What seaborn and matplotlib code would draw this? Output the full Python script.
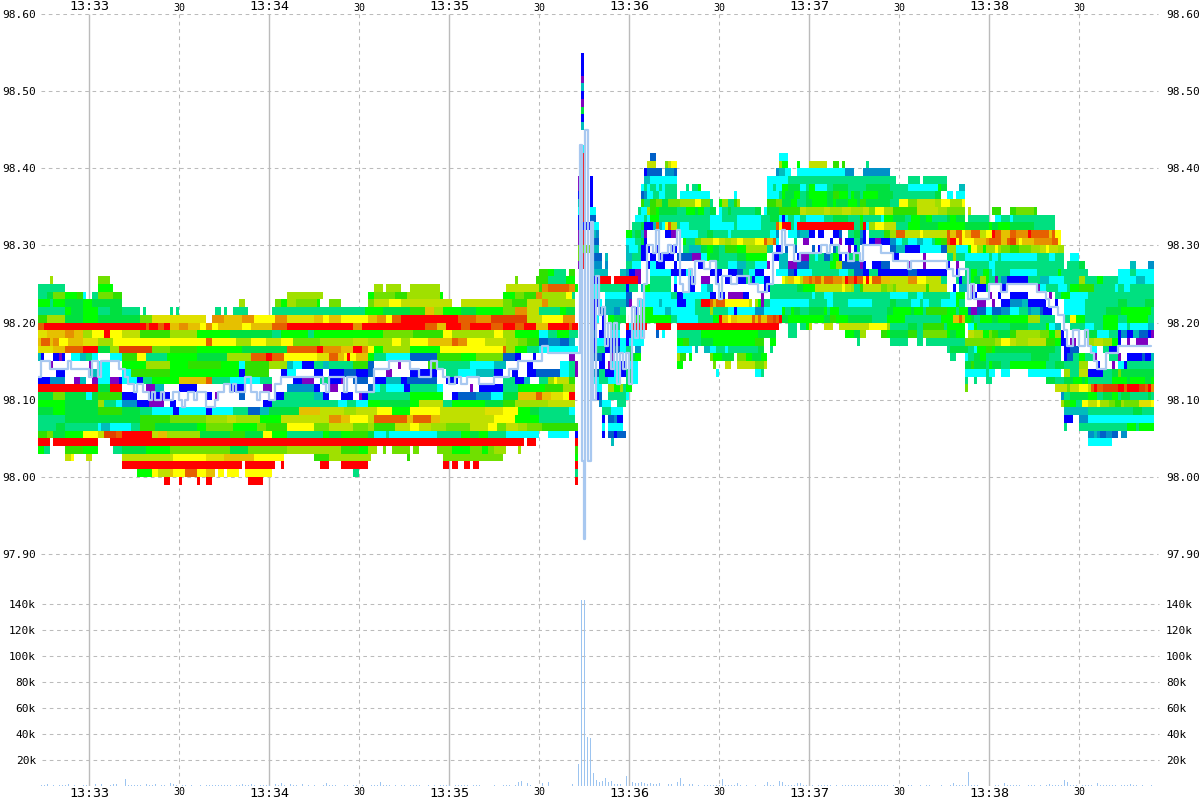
import numpy as np
import pandas as pd
import seaborn as sns
import matplotlib.pyplot as plt
from matplotlib.colors import ListedColormap

# cell colours, lowest to highest activity
level_chars = "wpbdetcshgGlLmYyaoORr"
level_colors = ["#ffffff", "#8000c0", "#0000ff", "#0060c8", "#0090c8", "#00bcbc", "#00ffff",
                "#00e080", "#00e040", "#00ff00", "#30e000", "#70e000", "#a0e000", "#c0e000",
                "#e0e000", "#ffff00", "#e6c000", "#e69000", "#e66000", "#e04000", "#ff0000"]

# price -> runs "start second + level", one second per column, "." = no cell
runs_before = {
    98.27: "167G 170g 172s 176. 177G 179.",
    98.26: "4L 5. 20l 24. 159l 160. 166G 170s 176g 179.",
    98.25: "0s 9. 20g 25. 112L 115. 116L 121. 124L 134. 156m 167G 168o 170O 177o 179g 180.",
    98.24: "0s 3h 5l 9g 13G 15c 16. 18s 20l 25G 28. 83L 95. 110g 112l 119G 123L 134g 135. 155g 159l 162G 166o 168L 176y 178s 179.",
    98.23: "0g 4s 5g 7g 9h 15g 18h 28. 67L 69. 79l 81g 83L 86l 93g 94. 97l 101. 110l 112m 117y 121m 138. 141m 155l 158G 163m 168o 170L 179.",
    98.22: "0s 9g 11h 15g 20s 24h 28s 34. 35s 36. 44s 45. 46s 47. 59s 61. 62s 63. 65s 70. 78s 109g 115h 124G 129a 132L 135g 141h 146g 155l 159o 163m 167s 174g 176h 179.",
    98.21: "0G 3L 9h 15g 20h 34l 38Y 56. 58o 62a 68o 72y 79o 83Y 92a 95y 97a 101y 110a 113o 116y 118O 121r 140O 146o 151R 163m 168y 175o 179.",
    98.20: "0O 2r 36O 37r 40O 42r 44a 47o 50a 54y 56o 58y 60a 68y 71a 78O 83r 105o 108r 129O 133a 136r 141O 144r 151O 155r 159O 162r 166a 170r 177O 178r 180.",
    98.19: "0Y 3a 9o 12a 15L 18y 22r 24y 28m 34G 44L 53g 64h 78s 81g 90s 92g 115l 125G 135y 138L 152y 155L 159g 167c 170s 173g 177s 180.",
    98.18: "0a 1O 4a 5o 7y 10a 15Y 20L 25y 56O 58y 66L 71y 76m 81y 85l 94L 105m 110L 118y 121L 124y 130a 138O 140o 143y 149m 156L 160l 163G 167d 170e 174d 177t 179.",
    98.17: "0Y 5a 9O 15r 20h 24L 27R 38l 44G 53g 68h 83O 93r 95o 101a 105r 108o 110y 112g 115L 124g 134y 155O 156L 159g 163s 167c 180.",
    98.16: "0t 1b 2w 5b 7p 8b 9w 11c 14t 16s 18c 20w 24c 28G 33y 36s 43g 53h 63L 71O 76r 78O 82y 93Y 97O 100a 102y 103r 104y 106a 110g 112s 116c 124d 133G 141g 146l 155d 159b 161w 165b 166w 177p 179.",
    98.15: "0w 4p 5w 17p 18w 20c 24w 28g 36L 44g 50G 61g 67c 69G 77L 83t 85c 88b 92s 95t 97s 105G 110d 112w 120p 121w 130G 133s 144c 152t 156w 163b 165w 174c 177s 179p 180.",
    98.14: "0w 6b 9w 17t 20c 24w 28c 31G 44g 67b 69G 77w 81b 83c 86w 92b 95w 97b 102d 106b 110d 112w 116p 118w 124b 133w 136s 140c 146t 152b 155w 158b 160w 163b 166d 174c 177s 179p 180.",
    98.13: "0b 4e 9w 12p 14t 16w 18p 20c 24p 27b 28c 33b 35s 38g 47a 56O 58s 64c 74s 78w 85b 88p 92w 94s 97b 101p 102w 105d 110w 112b 116t 121b 123d 133w 136b 140w 155s 159b 162t 164w 167s 170L 172y 173m 177G 179.",
    98.12: "0r 20h 24r 28w 36p 39t 42w 47b 53w 64b 69w 75p 78w 83e 92b 94w 97p 100w 110d 112c 114s 116c 122b 124s 133c 135w 144p 145w 147b 155s 160g 169G 175L 179.",
    98.11: "0h 5l 9h 16c 18h 20G 28b 33w 37b 44w 56b 58w 59p 60w 67d 69w 79b 82s 92t 95b 97w 101b 105w 107p 108b 110s 124g 135w 138b 140d 146e 151c 155h 160a 166O 168a 171Y 175y 177r 179.",
    98.10: "0g 9h 20L 22s 26c 28e 33b 37p 42w 44b 46w 75b 78s 97s 100c 103s 106c 110g 114h 124g 127m 135s 138g 149h 155G 159L 170m 179.",
    98.09: "0h 5g 9h 20G 28h 34s 38c 45b 47c 56b 58c 65s 70d 74t 77h 87a 94m 102L 106m 113y 118g 124y 134m 149Y 155y 160g 164h 167s 177c 179.",
    98.08: "0s 9h 34G 44l 56L 63m 66L 74g 81m 97o 101a 104y 110m 112O 123a 125O 131a 134m 152y 159g 167s 179.",
    98.07: "0s 6h 9s 20c 21t 24c 31s 34G 39h 53g 56l 65g 73l 76G 83y 92l 97m 105l 110L 112G 119m 124y 127m 131L 136l 144m 150y 153l 156m 160L 163l 168G 180.",
    98.06: "0G 3l 5h 9g 15y 20m 22R 26O 28r 38m 40a 43L 54h 64G 69h 75y 78g 83s 95g 97h 101g 104G 110h 112c 116s 117c 133s 141g 144h 147g 150s 156c 167. 170c 177. 179b 180.",
    98.05: "0r 4. 5r 20. 24r 162. 163r 166. 179r 180.",
    98.04: "0g 2s 4. 9G 15g 20. 25s 28h 36g 44l 64h 70l 83L 101G 107g 110L 113. 115l 116. 118l 124. 125l 127. 133l 138g 144l 148g 150l 152L 156. 160L 161. 179G 180.",
    98.03: "9m 11y 12. 16m 18. 28m 45y 56Y 62a 72y 82. 92G 97L 111. 123G 124. 135l 155. 179g 180.",
    98.02: "28r 68. 69r 79. 81r 82. 94r 97. 101r 110. 135r 137. 138r 140. 142r 144. 145r 147. 179r 180.",
    98.01: "33g 38y 40m 44a 45y 49O 53y 56a 59. 60y 62. 63y 67. 69y 78. 105s 107. 179s 180.",
    98.00: "42r 44. 47r 48. 53r 54. 56r 58. 70r 75. 179r 180.",
}

runs_middle = {
    98.55: "181b 182.", 98.54: "181b 182.", 98.53: "181b 182.", 98.52: "181p 182.",
    98.51: "181t 182.", 98.50: "181b 182.", 98.49: "181p 182.", 98.48: "181h 182.",
    98.47: "181b 182.", 98.46: "181t 182.", 98.43: "181c 182.",
    98.42: "181r 182. 204d 206. 247c 250.",
    98.41: "181r 182. 203m 206. 209l 210m 211y 213. 247L 248g 250. 253g 254. 257m 263. 265G 267. 268G 269.",
    98.40: "181r 182. 202b 203d 208. 209e 212d 213. 246e 247t 249c 251. 253c 269e 272.",
    98.39: "180p 181r 182. 184b 185. 202t 204c 213. 243c 245c 250s 274.",
    98.38: "180p 181r 182. 184b 185. 201c 202s 203c 204s 206c 207s 208c 209s 213. 216s 217. 218s 220g 221. 243c 245s 246c 248g 250h 254c 256s 257g 259c 263s 265h 270s 274.",
    98.37: "180b 181r 182. 184b 185. 201d 202e 203c 205s 207c 209s 213. 214c 224. 232c 233. 243c 247s 248g 249h 252g 254s 256h 257g 263h 265G 267g 270s 271g 272h 274.",
    98.36: "180t 181r 182. 184b 185. 201G 202s 204G 206l 208h 210l 214L 219y 221l 224s 225. 227g 228L 230s 232G 233L 234. 243G 246l 248h 251g 253s 256h 258g 263h 265g 266h 270g 273h 274.",
    98.35: "180c 181r 182. 184c 186. 200s 201c 203L 204G 206g 207h 213s 216g 219h 220g 222s 224h 226. 227c 228s 230h 231s 239h 241. 242c 243h 247G 254m 256L 262m 264L 268m 271L 274.",
    98.34: "180b 181r 182. 184d 186. 199c 202s 203c 204g 207s 224c 228s 233c 241s 244h 247c 248b 249c 250s 252c 254s 256c 262s 265h 270s 274.",
    98.33: "180b 184c 187. 198s 201h 202b 205t 206O 207t 208c 209y 210O 211m 213s 214c 217s 224c 232s 233c 241s 246O 247y 248r 251s 252c 253r 272s 274.",
    98.32: "180p 181r 182. 184t 186e 187. 196g 198s 199h 201t 202p 203w 209b 211p 213w 214c 220s 223h 225s 230c 231s 244c 246e 247w 250c 253e 254t 257b 259w 260b 262w 265b 267d 268w 270s 272h 274.",
    98.31: "180p 181r 182. 184b 185d 187. 196c 199s 201h 202b 203w 215g 216s 219l 221m 225y 227m 229L 231m 233y 235m 239y 242O 243a 245O 246c 247w 252s 253w 255p 257w 264b 265w 267p 268w 269b 272s 274.",
    98.30: "180l 184t 187. 196t 197c 200s 201b 204w 206b 207w 211b 213w 215s 217t 221h 223g 225h 227s 229G 233g 236L 243s 244t 245w 246b 248w 249d 250w 252d 253w 258d 259w 260b 261w 265d 266s 267w 270p 271w 272b 273s 274.",
    98.29: "180l 181r 182. 185d 188. 189t 190. 196t 198s 201b 203w 204b 206w 207b 212w 213d 218p 221c 223g 224h 227s 233h 236g 243w 245b 247t 250w 253b 254p 257s 259c 260s 262d 264s 265g 267b 268w 269b 270s 272h 274.",
    98.28: "180p 181r 182. 185e 188. 189e 190. 196s 198c 201w 203b 204c 206b 209w 212b 213w 220b 222w 226s 230c 233t 236s 239c 243p 244w 247t 250p 253d 257s 264g 266L 268d 274.",
    98.27: "185t 190. 194t 196e 197b 199p 201w 204c 211b 216c 218w 224b 228w 230b 233d 235s 237c 239b 242w 246c 250d 252b 253c 258s 267c 270s 272d 274.",
    98.26: "185b 187r 191. 192r 200p 201. 202w 204s 211w 212c 213w 217b 219w 221p 224w 226b 227w 229b 231w 233b 236s 238b 239c 242b 244w 248y 249m 250a 252y 254m 255o 257O 258o 259O 261a 262O 265o 268a 269r 270O 272r 273O 274.",
    98.25: "185c 187s 196b 197s 200w 201t 202g 204s 211w 212b 213w 217b 219w 221c 223t 225w 242b 244s 253h 255g 259m 268y 269m 271L 272s 274.",
    98.24: "185c 187. 189c 196d 198w 202c 211s 213b 215c 224b 226w 227b 229w 230p 235b 237w 241p 242w 244s 258c 259s 262c 265s 274.",
    98.23: "185b 187c 188. 189t 196d 197p 198w 200c 207t 208c 213b 216c 219s 221r 224O 225a 226O 229y 237m 238w 239L 240g 241p 242s 244c 257s 263c 265s 270c 274.",
    98.22: "185b 186w 187d 189t 192e 194s 196w 199b 200w 201g 205c 209t 211c 219s 224L 225s 230c 232b 233c 239e 242c 248g 249s 251g 252h 254s 257h 262g 263s 264g 267s 274.",
    98.21: "185b 186c 187. 188b 189. 190g 192h 196. 197w 199g 211s 213c 220s 225g 227r 228a 230y 231a 233Y 238O 239a 240O 241a 243O 245R 246O 247r 248h 250g 262h 264G 266g 270h 274.",
    98.20: "185b 186. 188b 189. 191s 194. 196r 197c 198r 203. 206r 211. 213r 247. 250s 253. 254s 256g 257m 258. 262m 265. 267m 274.",
    98.19: "185d 186. 187b 189. 191c 194. 196b 198c 202. 206d 207. 208c 209. 213s 221g 240h 246. 250s 253. 269g 272h 274.",
    98.18: "185b 186c 189b 194c 196b 197c 202. 213g 215G 217s 221h 225g 239G 242. 244g 246. 273s 274.",
    98.17: "185b 186s 189b 192d 194c 196s 198. 199e 201. 213c 218. 219t 220. 222t 224c 226s 229c 230s 240h 242. 244s 245.",
    98.16: "185d 188b 189w 191p 192w 197h 199g 201. 213L 214G 216. 217g 218. 224l 225g 228h 232. 233l 236g 238h 241g 243.",
    98.15: "187b 189w 190p 191c 194b 196w 197c 200. 213g 215. 225l 226. 229m 231. 233m 239l 242m 243.",
    98.14: "185e 186d 187s 189b 192c 194b 196s 198c 200. 226c 227. 239c 241s 242.",
    98.13: "185c 187s 190c 194. 196s 198c 200.",
    98.12: "186c 188. 190L 192g 194L 195s 196g 198.",
    98.11: "186b 187d 188. 190s 196c 197.",
    98.10: "187e 188c 191. 193s 196.",
    98.09: "188s 191c 195.",
    98.08: "188b 189. 190d 192e 193b 195.",
    98.07: "188c 189. 190c 195.",
    98.06: "188b 189. 190d 192b 193d 196.",
    98.05: "191t 192.",
}

runs_after = {
    98.41: "276s 277.",
    98.40: "275e 284.",
    98.39: "274s 286. 290s 294. 295s 303.",
    98.38: "274s 276h 284s 290c 300g 301h 303. 307t 309.",
    98.37: "274s 275g 280h 285s 299h 301. 303c 305. 306c 309.",
    98.36: "274G 276h 284s 287y 290l 293m 299L 301y 304L 308y 309.",
    98.35: "274L 275m 277l 279y 282L 285G 293m 300L 303l 309. 310m 311. 318G 321. 324G 326l 332G 333.",
    98.34: "274g 275s 281c 282g 285h 289s 291g 294h 296g 298s 303h 304g 306h 309. 310s 317. 319c 321s 324c 325s 339.",
    98.33: "274G 275r 276c 277L 279y 282m 286s 290g 294h 300g 309h 317g 318h 320g 324h 332s 339.",
    98.32: "274e 275b 276w 277s 282G 284L 286O 289m 294y 295m 303O 304a 306O 308y 309a 311O 314m 316y 318r 319O 321a 324O 326o 330r 331O 337a 338O 339y 341.",
    98.31: "274d 275b 276w 277b 279p 281b 284e 286c 288s 290c 293t 295c 298s 299g 301G 303O 304r 306y 307O 308y 311y 312a 316o 317O 321a 323O 324R 326a 327y 328a 332o 338O 340y 341.",
    98.30: "274w 284d 286t 289b 294c 301d 303L 306c 310g 311y 313L 315g 316L 319y 320L 321l 324G 327l 331L 334m 336y 337m 340L 342.",
    98.29: "274w 285b 287w 295p 296w 303s 305L 306s 309c 317s 318c 320s 321c 323s 323c 333s 337c 339s 342. 344c 347.",
    98.28: "274p 275b 276w 278b 281d 284w 290p 291w 295p 296w 303b 304w 306p 307w 309s 317c 319s 342. 343s 347h 349. 364t 366. 370e 372.",
    98.27: "274d 275b 277s 280b 290d 293b 303w 306b 307w 309s 311g 313s 315g 317s 318c 319s 324c 333s 340g 341s 350. 360c 364s 366c 372.",
    98.26: "274O 275y 276r 277y 278O 281a 284m 290o 293y 296m 301s 303w 306s 307b 308s 311g 312h 314L 316g 317s 319p 320s 321e 323b 330s 334t 337c 342s 347L 349s 353g 355s 360c 366t 369c 372.",
    98.25: "274G 275m 281l 283L 285l 286m 296G 297m 303w 305b 306w 307t 310w 311p 312w 313b 316s 317w 321b 323w 333p 334c 336s 340c 343s 344g 347G 352s 359c 360s 362c 364s 372.",
    98.24: "274s 284c 290s 293c 295s 304c 306g 309w 311b 313w 317p 318w 320b 321w 324b 330w 337p 338w 339s 341g 344c 350s 372.",
    98.23: "274c 278s 284h 286s 291c 294s 295c 297s 301c 306g 307s 309w 313p 316w 318p 319w 321b 324e 328t 330b 336w 339b 340w 342c 349s 360h 363s 369h 372.",
    98.22: "274s 283h 285g 291h 292g 295s 296G 303g 306s 307g 310d 311p 313d 316c 318d 321e 324c 327s 330e 331t 334d 335b 338w 342c 349s 356h 361g 371s 372.",
    98.21: "274h 278s 283g 289s 301g 305a 307O 308a 309g 311h 312s 314g 318h 320g 330L 334s 339w 342s 344y 346g 349s 355g 360s 363g 370s 372.",
    98.20: "274m 277y 283L 284s 290h 293s 295G 302s 303g 309. 310c 312g 313s 324h 330s 336g 337c 339t 341w 344s 349c 352s 355g 360c 363s 364c 370t 372.",
    98.19: "274L 276. 281G 283g 284h 290G 293s 295l 303g 304h 306g 309. 310m 312L 315g 317l 318G 320h 324G 326L 334l 337g 339L 341b 342w 349h 353c 357s 360b 361e 363b 365t 367d 370b 371p 372.",
    98.18: "284s 290. 293s 295. 296s 309l 319L 321y 324m 326L 330m 336G 339g 341b 343w 344p 346w 350L 352m 355L 358g 360b 361w 363p 364w 366p 370w 372.",
    98.17: "303s 304h 310s 312c 313g 316G 318g 319h 339s 341w 342b 344d 347w 351c 353w 355s 357b 360w 372.",
    98.16: "304s 306. 309c 310s 312h 314g 316s 331h 337s 341w 342b 343d 345s 347g 349s 352p 353w 357s 360p 361w 363b 368d 369b 371t 372.",
    98.15: "309h 311G 312h 316s 317g 318h 321s 324g 336s 339h 342s 347L 350w 353b 354w 358p 359w 360c 362b 363s 372.",
    98.14: "309c 316s 317c 319. 321c 324. 330c 341. 342L 344s 347m 350b 355s 358h 360l 361h 372.",
    98.13: "309s 310. 312s 313. 316s 318. 336h 339s 342h 345g 348h 349g 350s 358g 363h 364g 369h 371g 372.",
    98.12: "309l 310. 339m 343l 344m 347y 350m 351O 352r 353O 355R 360r 362O 363r 367R 369O 370r 371o 372.",
    98.11: "341e 342s 344h 350g 353s 355h 358g 360s 361h 364s 370h 371s 372.",
    98.10: "341L 342G 344g 346s 348y 350m 353y 354L 357l 359G 361L 362l 367Y 371y 372.",
    98.09: "342t 350s 365h 368s 372.",
    98.08: "342b 345. 347e 350c 372.",
    98.07: "342s 343. 347s 363g 366s 367g 372.",
    98.06: "350e 352t 353e 354d 356e 358d 360. 361e 363.",
    98.05: "350c 358.",
}

# traded price line (seconds after 13:32:43, price)
line_points = [
    (0, 98.13), (1, 98.15), (4, 98.14), (10, 98.15), (11, 98.14), (17, 98.13), (18, 98.15), (20, 98.13),
    (21, 98.15), (27, 98.14), (29, 98.13), (30, 98.12), (32, 98.11), (33, 98.12), (35, 98.11), (37, 98.10),
    (38, 98.11), (39, 98.10), (41, 98.11), (42, 98.10), (45, 98.11), (47, 98.10), (48, 98.09), (49, 98.10),
    (50, 98.11), (52, 98.10), (53, 98.11), (56, 98.09), (59, 98.10), (60, 98.11), (62, 98.12), (64, 98.11),
    (65, 98.12), (66, 98.11), (69, 98.13), (71, 98.11), (73, 98.10), (74, 98.11), (77, 98.10), (79, 98.12),
    (81, 98.13), (95, 98.12), (96, 98.11), (97, 98.13), (102, 98.11), (103, 98.13), (106, 98.11), (112, 98.14),
    (117, 98.15), (124, 98.14), (127, 98.13), (131, 98.15), (133, 98.14), (135, 98.13), (137, 98.12), (139, 98.13),
    (141, 98.12), (143, 98.13), (147, 98.12), (152, 98.13), (157, 98.14), (160, 98.15), (168, 98.17), (170, 98.16),
    (180.6, 98.43), (181.3, 98.02), (182.0, 97.92), (182.2, 98.45), (183.4, 98.02), (184.3, 98.33), (185, 98.10),
    (186, 98.26), (187, 98.21), (188, 98.22), (189, 98.17), (190, 98.20), (191, 98.14), (192, 98.20), (193, 98.12),
    (194, 98.16), (195, 98.14), (196, 98.16), (197, 98.12), (198, 98.22), (199, 98.18), (200, 98.23), (201, 98.18),
    (202, 98.25), (203, 98.30), (205, 98.29), (206, 98.32), (207, 98.28), (208, 98.29), (210, 98.30), (211, 98.29),
    (212, 98.30), (213, 98.32), (214, 98.25), (215, 98.24), (217, 98.27), (218, 98.25), (219, 98.28), (222, 98.27),
    (224, 98.28), (226, 98.25), (227, 98.23), (228, 98.26), (231, 98.25), (233, 98.26), (237, 98.25), (240, 98.24),
    (243, 98.25), (245, 98.29), (248, 98.32), (249, 98.30), (252, 98.28), (254, 98.29), (261, 98.30), (263, 98.29),
    (264, 98.30), (267, 98.29), (270, 98.28), (272, 98.29), (274, 98.28), (275, 98.30), (281, 98.29), (285, 98.28),
    (290, 98.27), (291, 98.28), (303, 98.27), (305, 98.26), (307, 98.27), (310, 98.23), (311, 98.25), (312, 98.23),
    (317, 98.25), (321, 98.24), (323, 98.25), (333, 98.24), (336, 98.23), (337, 98.22), (340, 98.21), (342, 98.19),
    (343, 98.17), (345, 98.19), (347, 98.17), (349, 98.19), (350, 98.17), (351, 98.16), (352, 98.15), (353, 98.14),
    (356, 98.16), (360, 98.17), (371, 98.17),
]

# seconds with a small print of about 800 shares
small_print_secs = [1, 2, 3, 5, 7, 8, 9, 10, 12, 15, 16, 19, 21, 24, 25, 26, 30, 31, 32, 33, 34, 36, 37, 38, 39, 41, 42,
                    44, 45, 46, 48, 49, 51, 54, 56, 57, 58, 59, 60, 61, 62, 63, 64, 66, 67, 68, 69, 70, 71, 72, 74, 75, 76, 77,
                    79, 80, 81, 82, 84, 85, 86, 88, 90, 92, 95, 96, 97, 98, 99, 102, 103, 105, 106, 108, 111, 112, 113, 114, 115,
                    116, 117, 119, 121, 122, 124, 125, 126, 127, 130, 132, 134, 135, 136, 137, 139, 140, 141, 142, 143, 145, 146,
                    147, 152, 155, 156, 157, 159, 164, 222, 223, 224, 225, 226, 227, 229, 230, 231, 232, 234, 236, 239, 242, 244, 245,
                    249, 250, 251, 252, 255, 256, 258, 260, 261, 262, 263, 264, 266, 268, 269, 270, 271, 272,
                    273, 274, 275, 276, 277, 278, 279, 280, 281, 282, 283, 285, 290, 291, 294, 296, 297, 301, 304, 306, 307,
                    308, 309, 311, 312, 313, 319, 320, 323, 324, 325, 326, 327, 330, 331, 332, 334, 336, 338, 339,
                    340, 341, 344, 345, 346, 348, 349, 350, 351, 354, 355, 356, 357, 358, 359, 361, 362, 363, 365, 366, 368, 371]
# larger prints
large_prints = {3: 1500, 10: 1500, 19: 1500, 21: 1500, 25: 1500, 26: 1500, 29: 5500, 36: 1500, 39: 1500, 44: 2500, 45: 1500,
                68: 1500, 71: 1500, 79: 1500, 81: 2000, 84: 1500, 88: 1500, 96: 2000, 114: 2800, 160: 3000, 161: 3500,
                163: 2000, 168: 2000, 170: 3000, 178: 1300, 180: 16600, 181: 143000, 182: 143000, 183: 38000, 184: 37000,
                185: 10000, 186: 5000, 187: 3000, 188: 3500, 189: 6500, 190: 3000, 191: 3500, 192: 1300, 193: 1300,
                194: 1300, 196: 8000, 198: 2800, 199: 2000, 200: 2000, 201: 2800, 202: 2000, 203: 1300, 204: 2000,
                205: 1300, 206: 1300, 207: 2000, 210: 1800, 211: 1300, 213: 2800, 214: 6500, 215: 1300, 217: 1300,
                218: 1300, 220: 800, 228: 5500, 233: 2000, 243: 2800, 247: 3800, 248: 3000, 253: 2000, 254: 2000,
                305: 2500, 310: 11000, 322: 2000, 337: 1200, 342: 4600, 343: 3000, 353: 2000, 364: 1500}

minute_secs = [17, 77, 137, 197, 257, 317]
minute_labels = ["13:33", "13:34", "13:35", "13:36", "13:37", "13:38"]
half_secs = [47, 107, 167, 227, 287, 347]
half_labels = ["30"] * 6
price_ticks = [98.60, 98.50, 98.40, 98.30, 98.20, 98.10, 98.00, 97.90]
vol_ticks = [20000, 40000, 60000, 80000, 100000, 120000, 140000]
vol_labels = ["20k", "40k", "60k", "80k", "100k", "120k", "140k"]

grid_color = "#bbbbbb"
line_color = "#a8c8f0"
dash = (0, (3.5, 3.5))
W, H = 1200, 800
n_secs = 372
n_rows = 71


def fill_row(grid, price, text):
    row = round((98.60 - price) * 100)
    tokens = text.split()
    for i, tok in enumerate(tokens):
        start = int(tok[:-1])
        stop = int(tokens[i + 1][:-1]) if i + 1 < len(tokens) else n_secs
        if tok[-1] != ".":
            grid[row, start:stop] = level_chars.index(tok[-1])


grid = np.full((n_rows, n_secs), np.nan)
for runs in [runs_before, runs_middle, runs_after]:
    for price, text in runs.items():
        fill_row(grid, price, text)

sns.set_theme(style="white")
plt.rcParams["font.family"] = ["DejaVu Sans Mono"]

fig = plt.figure(figsize=(W / 100, H / 100), dpi=100)
# the axes run on to x=1164 so the right labels sit clear of the grid, which stops at 1158
ax = fig.add_axes([38 / W, 1 - 786 / H, 1126 / W, 772 / H])

# heatmap rows and columns are the axis units: 1 row = 0.01, 1 column = 1 s
sns.heatmap(pd.DataFrame(grid), ax=ax, cmap=ListedColormap(level_colors), vmin=-0.5,
            vmax=len(level_colors) - 0.5, cbar=False, xticklabels=False, yticklabels=False,
            linewidths=0, zorder=3)
xmax = 1126 / 3
grid_end = 1120 / 3
ax.set_xlim(0, xmax)
ax.set_ylim(772 / (540 / 70), 0)
for s in ax.spines.values():
    s.set_visible(False)

price_rows = [(98.60 - p) * 100 for p in price_ticks]
ax.hlines(price_rows, 1, grid_end, color=grid_color, lw=0.75, linestyle=dash, zorder=1)
ax.vlines(minute_secs, 0, 100.1, color=grid_color, lw=1, zorder=1)
ax.vlines(half_secs, 0, 100.1, color=grid_color, lw=0.75, linestyle=dash, zorder=1)

ax.set_yticks(price_rows)
ax.set_yticklabels([f"{p:.2f}" for p in price_ticks], fontsize=8)
ax.tick_params(axis="y", length=0, pad=1.5, labelleft=True, labelright=True, left=False, right=False, colors="black")
for lab in ax.get_yticklabels():
    lab.set_rotation(0)

ax.set_xticks(minute_secs)
ax.set_xticklabels(minute_labels, fontsize=9.6, rotation=0)
ax.set_xticks(half_secs, minor=True)
ax.set_xticklabels(half_labels, minor=True, fontsize=7.2, rotation=0)
ax.tick_params(axis="x", which="both", length=0, pad=1, top=False, bottom=False, labeltop=True, labelbottom=True, colors="black")

line_secs = [p[0] for p in line_points]
line_rows = [(98.60 - p[1]) * 100 for p in line_points]
line_df = pd.DataFrame({"sec": line_secs, "row": line_rows})
sns.lineplot(data=line_df, x="sec", y="row", ax=ax, color=line_color, linewidth=1.6, drawstyle="steps-post",
             estimator=None, sort=False, zorder=4)
ax.set_xlabel("")
ax.set_ylabel("")

volume = {sec: 800 for sec in small_print_secs}
volume.update(large_prints)
vol_secs = sorted(volume)
vol_values = [volume[s] for s in vol_secs]

# volume panel, shifted a sixth of a second so each 1 px bar fills a pixel
vax = fig.add_axes([38 / W, 1 - 786 / H, 1126 / W, 188 / H])
vax.patch.set_alpha(0)
vax.hlines(vol_ticks, 1, grid_end, color=grid_color, lw=0.75, linestyle=dash, zorder=1)
# no edge, the style's white bar edge would paint over bars this thin
sns.barplot(x=vol_secs, y=vol_values, ax=vax, native_scale=True, color="#9cc4f0", errorbar=None,
            width=0.34, saturation=1, linewidth=0, edgecolor="none", zorder=3)
vax.set_xlim(-1 / 6, xmax - 1 / 6)
vax.set_ylim(0, 188 / 26 * 20000)
vax.set_xticks([])
vax.set_xlabel("")
for s in vax.spines.values():
    s.set_visible(False)
vax.set_yticks(vol_ticks)
vax.set_yticklabels(vol_labels, fontsize=8)
vax.tick_params(axis="y", length=0, pad=1.5, labelleft=True, labelright=True, left=False, right=False, colors="black")

fig.savefig("out.png", dpi=100)
